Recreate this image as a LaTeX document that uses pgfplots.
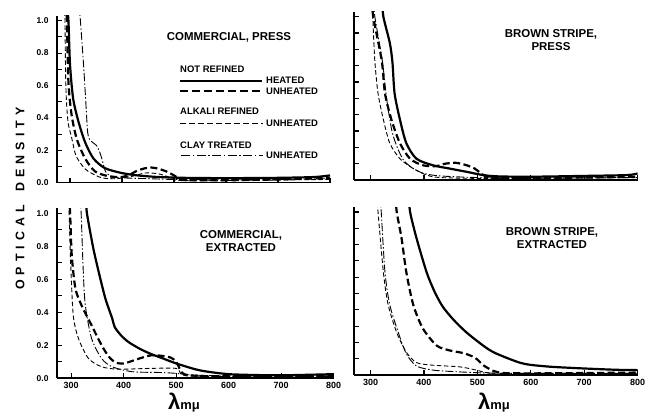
\documentclass[border=0pt]{standalone}
\usepackage{pgfplots}
\pgfplotsset{compat=1.18}
\usepackage{fontspec}
\setmainfont{Liberation Sans}
\begin{document}
\begin{tikzpicture}
\useasboundingbox (0,0) rectangle (648bp,418bp);
\pgfplotsset{
  panel/.style={scale only axis, axis lines=left,
    axis line style={-, line width=1.6bp, black},
    tick align=inside, major tick length=5bp, minor tick length=5bp,
    tick style={line width=1.1bp, black},
    xmax=800, ymin=0, ymax=1.03,
    xtick={300,400,500,600,700,800},
    ytick={0,0.2,0.4,0.6,0.8,1.0},
    minor ytick={0.1,0.3,0.5,0.7,0.9},
    /pgf/number format/assume math mode=true,
    yticklabel style={font=\bfseries\fontsize{8.5}{9}\selectfont, xshift=-5bp,
      /pgf/number format/.cd, fixed, fixed zerofill, precision=1},
    xticklabel style={font=\bfseries\fontsize{9}{9}\selectfont, yshift=-0.5bp,
      /pgf/number format/.cd, 1000 sep={}},
    clip=true},
  nrh/.style={black, line width=2.2bp, smooth, tension=0.45},
  nru/.style={black, line width=2.2bp, dash pattern=on 7bp off 3.5bp, smooth, tension=0.45},
  alk/.style={black, line width=0.9bp, dash pattern=on 4.5bp off 2.5bp, smooth, tension=0.45},
  clay/.style={black, line width=0.9bp, dash pattern=on 8bp off 2.2bp on 1.4bp off 2.2bp, smooth, tension=0.45},
}
% ---------- top left: commercial, press
\begin{axis}[panel, at={(57bp,235.3bp)}, anchor=origin, xmin=275,
  width=273bp, height=166.9bp, xticklabels={}]
\addplot[nrh] coordinates {(294,1.1)(297,1.0)(300,0.73)(306,0.52)(316,0.38)(329,0.25)(345,0.15)(367,0.09)(399,0.06)(430,0.045)(470,0.035)(520,0.03)(600,0.028)(700,0.03)(770,0.035)(800,0.045)};
\addplot[nru] coordinates {(292,1.1)(294,1.0)(297,0.62)(303,0.42)(313,0.27)(329,0.15)(348,0.07)(374,0.04)(400,0.035)(415,0.05)(430,0.075)(450,0.093)(465,0.09)(485,0.07)(500,0.045)(515,0.018)(540,0.015)(600,0.015)(700,0.02)(800,0.03)};
\addplot[alk] coordinates {(290,1.1)(292,0.6)(296,0.38)(303,0.28)(310,0.18)(316,0.14)(325,0.1)(335,0.07)(361,0.03)(390,0.025)(420,0.04)(445,0.06)(470,0.055)(490,0.035)(505,0.015)(550,0.012)(650,0.015)(800,0.02)};
\addplot[clay] coordinates {(317,1.1)(320,1.0)(326,0.73)(330,0.52)(334,0.31)(339,0.26)(345,0.245)(351,0.23)(357,0.19)(362,0.14)(366,0.09)(370,0.06)(380,0.04)(400,0.03)(450,0.025)(500,0.02)(600,0.018)(700,0.02)(800,0.025)};
\end{axis}
% ---------- top right: brown stripe, press
\begin{axis}[panel, at={(354bp,238bp)}, anchor=origin, xmin=269,
  width=283.6bp, height=168.2bp, xticklabels={}, yticklabels={}]
\addplot[nrh] coordinates {(322,1.1)(324,1.0)(336,0.84)(341,0.72)(345,0.53)(355,0.37)(367,0.225)(386,0.13)(417,0.09)(448,0.07)(480,0.05)(511,0.03)(540,0.022)(600,0.02)(700,0.025)(780,0.03)(800,0.04)};
\addplot[nru] coordinates {(303,1.1)(305,1.0)(321,0.73)(327,0.53)(339,0.37)(355,0.225)(374,0.13)(398,0.09)(423,0.085)(440,0.1)(460,0.105)(480,0.09)(495,0.07)(505,0.045)(517,0.02)(540,0.012)(600,0.012)(700,0.015)(800,0.02)};
\addplot[clay] coordinates {(306,1.1)(308,1.0)(322,0.73)(330,0.5)(340,0.3)(350,0.2)(362,0.12)(380,0.07)(400,0.04)(430,0.025)(500,0.015)(600,0.012)(800,0.015)};
\addplot[alk] coordinates {(302,1.1)(304,1.0)(308,0.73)(314,0.53)(324,0.37)(336,0.225)(355,0.13)(380,0.07)(405,0.03)(430,0.015)(500,0.01)(600,0.01)(800,0.015)};
\end{axis}
% ---------- bottom left: commercial, extracted
\begin{axis}[panel, at={(57bp,39.7bp)}, anchor=origin, xmin=273,
  width=276.7bp, height=170bp]
\addplot[nrh] coordinates {(328,1.1)(330,1.0)(342,0.79)(352,0.65)(365,0.485)(378,0.364)(383,0.31)(395,0.26)(409,0.22)(430,0.18)(450,0.15)(475,0.12)(500,0.09)(536,0.055)(560,0.04)(600,0.025)(650,0.02)(700,0.018)(800,0.025)};
\addplot[nru] coordinates {(296,1.1)(298,1.0)(301,0.75)(308,0.545)(320,0.44)(339,0.32)(358,0.2)(372,0.13)(385,0.095)(400,0.09)(416,0.105)(435,0.125)(454,0.14)(475,0.135)(490,0.125)(500,0.1)(508,0.05)(515,0.025)(540,0.015)(600,0.012)(800,0.015)};
\addplot[alk] coordinates {(294,1.1)(296,1.0)(299,0.7)(304,0.38)(314,0.24)(333,0.12)(358,0.07)(390,0.055)(450,0.06)(500,0.06)(508,0.03)(520,0.015)(600,0.01)(800,0.012)};
\addplot[clay] coordinates {(317,1.1)(319,1.0)(323,0.65)(327,0.44)(339,0.24)(358,0.12)(378,0.07)(416,0.04)(470,0.035)(500,0.03)(530,0.02)(600,0.015)(800,0.015)};
\end{axis}
% ---------- bottom right: brown stripe, extracted
\begin{axis}[panel, at={(354bp,43bp)}, anchor=origin, xmin=269,
  width=283.6bp, height=167.9bp, yticklabels={}]
\addplot[nrh] coordinates {(372,1.1)(374,1.0)(386,0.84)(405,0.63)(420,0.51)(435,0.42)(455,0.34)(480,0.26)(511,0.18)(530,0.14)(555,0.105)(580,0.075)(600,0.062)(640,0.05)(700,0.04)(760,0.032)(800,0.03)};
\addplot[nru] coordinates {(347,1.1)(349,1.0)(358,0.84)(367,0.63)(380,0.43)(398,0.285)(424,0.18)(449,0.15)(473,0.135)(490,0.115)(500,0.095)(511,0.06)(530,0.025)(550,0.012)(600,0.01)(700,0.012)(800,0.015)};
\addplot[alk] coordinates {(312,1.1)(314,1.0)(324,0.63)(333,0.43)(349,0.26)(367,0.14)(386,0.076)(417,0.06)(467,0.05)(498,0.03)(524,0.012)(600,0.01)(800,0.01)};
\addplot[clay] coordinates {(318,1.1)(320,1.0)(327,0.63)(336,0.43)(352,0.26)(367,0.13)(386,0.055)(417,0.03)(461,0.02)(520,0.012)(600,0.01)(800,0.01)};
\end{axis}
% ---------- titles
\tikzset{ttl/.style={font=\bfseries\fontsize{11.5}{13}\selectfont, align=center, inner sep=0pt}}
\node[ttl] at (229bp,381bp) {COMMERCIAL, PRESS};
\node[ttl] at (551bp,378bp) {BROWN STRIPE,\\PRESS};
\node[ttl] at (241bp,176.5bp) {COMMERCIAL,\\EXTRACTED};
\node[ttl] at (552bp,179.5bp) {BROWN STRIPE,\\EXTRACTED};
% ---------- legend
\tikzset{lg/.style={font=\bfseries\fontsize{9.5}{10}\selectfont, anchor=west, inner sep=0pt}}
\node[lg] at (180bp,348.5bp) {NOT REFINED};
\draw[black, line width=2.2bp] (180bp,337.3bp) -- (262bp,337.3bp);
\node[lg] at (266bp,337.5bp) {HEATED};
\draw[black, line width=2.2bp, dash pattern=on 8bp off 4bp] (180bp,327.3bp) -- (262bp,327.3bp);
\node[lg] at (266bp,327bp) {UNHEATED};
\node[lg] at (180bp,306.5bp) {ALKALI REFINED};
\draw[black, line width=0.9bp, dash pattern=on 6bp off 3bp] (180bp,295bp) -- (263bp,295bp);
\node[lg] at (266bp,295bp) {UNHEATED};
\node[lg] at (180bp,273bp) {CLAY TREATED};
\draw[black, line width=0.9bp, dash pattern=on 9bp off 2.5bp on 1.5bp off 2.5bp] (181bp,263bp) -- (263bp,263bp);
\node[lg] at (266bp,263bp) {UNHEATED};
% ---------- axis labels
\node[rotate=90, font=\bfseries\fontsize{12.5}{13}\selectfont, inner sep=0pt] at (20bp,219.5bp)
  {\addfontfeature{LetterSpace=41}OPTICAL\hspace{13bp}DENSITY};
\node[anchor=base west, inner sep=0pt] at (168bp,9bp)
  {{\bfseries\fontsize{22}{22}\selectfont λ}{\bfseries\fontsize{13}{13}\selectfont mμ}};
\node[anchor=base west, inner sep=0pt] at (478bp,9bp)
  {{\bfseries\fontsize{22}{22}\selectfont λ}{\bfseries\fontsize{13}{13}\selectfont mμ}};
\end{tikzpicture}
\end{document}
